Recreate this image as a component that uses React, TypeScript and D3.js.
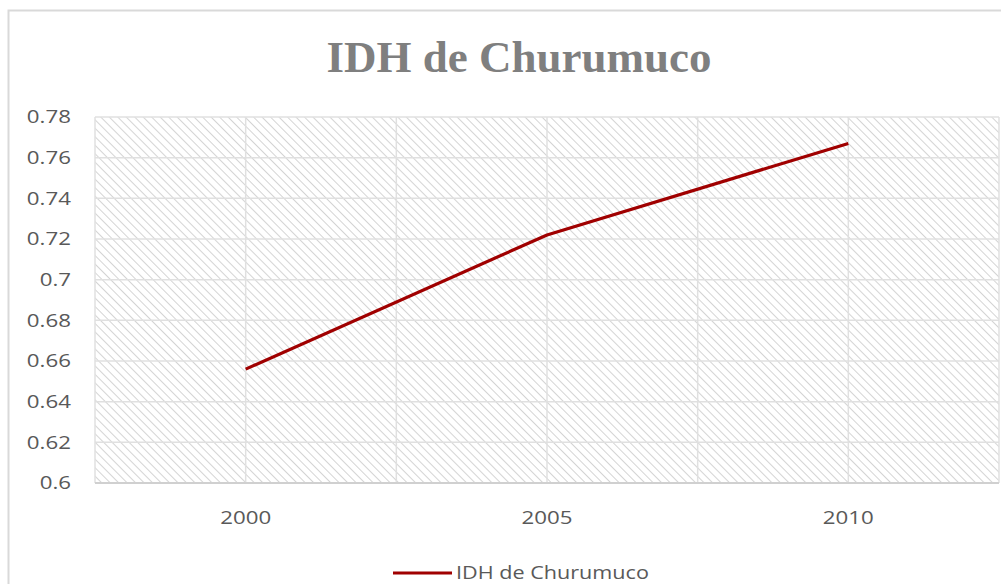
import React from "react";
import { scaleBand, scaleLinear, line, range } from "d3";

const years = ["2000", "2005", "2010"];
const idhValues = [0.656, 0.722, 0.767];
const yTicks = [0.6, 0.62, 0.64, 0.66, 0.68, 0.7, 0.72, 0.74, 0.76, 0.78];
const seriesName = "IDH de Churumuco";

const width = 1001;
const height = 584;
const plot = { left: 95, right: 999, top: 117, bottom: 483 };
const labelFont = { fontFamily: "'Open Sans', sans-serif", fontSize: 18 };
const stretch = 1.24; // reference text is stretched horizontally

export default function App() {
  const x = scaleBand<string>().domain(years).range([plot.left, plot.right]);
  const y = scaleLinear().domain([0.6, 0.78]).range([plot.bottom, plot.top]);
  const cx = (d: string) => (x(d) ?? 0) + x.bandwidth() / 2;

  const pts = years.map((d, i) => [cx(d), y(idhValues[i])] as [number, number]);
  const path = line()(pts) ?? "";

  // vertical grid every half category
  const vLines = range(1, years.length * 2).map(
    (i) => plot.left + (i * x.bandwidth()) / 2
  );

  return (
    <svg
      width={width}
      height={height}
      style={{ position: "absolute", left: 0, top: 0, background: "#fff" }}
    >
      <defs>
        <pattern
          id="hatch"
          width={6}
          height={6}
          patternUnits="userSpaceOnUse"
          patternTransform="rotate(-45)"
        >
          <line x1={0} y1={0} x2={0} y2={6} stroke="#d4d4d4" strokeWidth={2} />
        </pattern>
      </defs>
      <rect x={8.5} y={10.5} width={1010} height={600} fill="#fff" stroke="#d9d9d9" strokeWidth={2} />

      <text
        x={519}
        y={72}
        textAnchor="middle"
        fill="#7f7f7f"
        style={{ fontFamily: "'Liberation Serif', serif", fontWeight: 700, fontSize: 45 }}
      >
        {seriesName}
      </text>

      <rect
        x={plot.left}
        y={plot.top}
        width={plot.right - plot.left}
        height={plot.bottom - plot.top}
        fill="url(#hatch)"
      />

      {yTicks.map((t) => (
        <line key={t} x1={plot.left} x2={plot.right} y1={y(t)} y2={y(t)} stroke="#e0e0e0" strokeWidth={1.5} />
      ))}
      {vLines.map((v) => (
        <line key={v} x1={v} x2={v} y1={plot.top} y2={plot.bottom} stroke="#e0e0e0" strokeWidth={1.5} />
      ))}
      <line x1={plot.left} x2={plot.left} y1={plot.top} y2={plot.bottom} stroke="#e0e0e0" strokeWidth={1.5} />
      <line x1={plot.right} x2={plot.right} y1={plot.top} y2={plot.bottom} stroke="#e0e0e0" strokeWidth={1.5} />
      <line x1={plot.left} x2={plot.right} y1={plot.bottom} y2={plot.bottom} stroke="#d0d0d0" strokeWidth={2} />

      {yTicks.map((t) => (
        <text
          key={t}
          transform={`translate(71,${y(t)}) scale(${stretch},1)`}
          dy="0.35em"
          textAnchor="end"
          fill="#595959"
          style={labelFont}
        >
          {String(t)}
        </text>
      ))}
      {years.map((d) => (
        <text
          key={d}
          transform={`translate(${cx(d)},524) scale(${stretch},1)`}
          textAnchor="middle"
          fill="#595959"
          style={labelFont}
        >
          {d}
        </text>
      ))}

      <path d={path} fill="none" stroke="#a00000" strokeWidth={3.2} strokeLinejoin="round" />

      <line x1={393} x2={452} y1={573} y2={573} stroke="#a00000" strokeWidth={3.2} />
      <text
        transform={`translate(456,579) scale(1.2,1)`}
        fill="#595959"
        style={labelFont}
      >
        {seriesName}
      </text>
    </svg>
  );
}
